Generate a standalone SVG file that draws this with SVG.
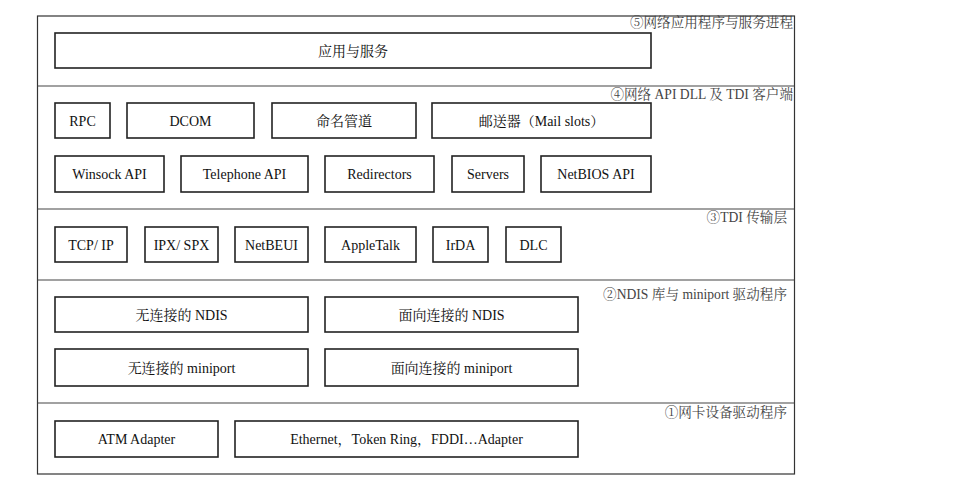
<svg xmlns="http://www.w3.org/2000/svg" width="957" height="497" viewBox="0 0 957 497">
<style>
.frame{fill:none;stroke:#333;stroke-width:1.2}
.div{stroke:#444;stroke-width:1.2}
.box{fill:#fff;stroke:#222;stroke-width:1.6}
.t{font-family:"Liberation Serif","Noto Serif CJK SC","Noto Sans CJK SC",serif;font-size:14px;fill:#111;text-anchor:middle}
.lab{font-family:"Liberation Serif","Noto Serif CJK SC","Noto Sans CJK SC",serif;font-size:13.6px;fill:#444;text-anchor:end}
</style>
<rect width="957" height="497" fill="#fff"/>
<g id="frame">
<rect class="frame" x="37.5" y="16" width="757" height="458"/>
<line class="div" x1="37.5" y1="86" x2="794.5" y2="86"/>
<line class="div" x1="37.5" y1="209" x2="794.5" y2="209"/>
<line class="div" x1="37.5" y1="280" x2="794.5" y2="280"/>
<line class="div" x1="37.5" y1="403" x2="794.5" y2="403"/>
</g>
<g id="layer-labels">
<text class="lab" x="793" y="27">⑤网络应用程序与服务进程</text>
<text class="lab" x="793" y="99">④网络 API DLL 及 TDI 客户端</text>
<text class="lab" x="787" y="222">③TDI 传输层</text>
<text class="lab" x="787" y="299">②NDIS 库与 miniport 驱动程序</text>
<text class="lab" x="787" y="417">①网卡设备驱动程序</text>
</g>
<g id="connectors"></g>
<g id="app-services"><rect class="box" x="55" y="33" width="596" height="35"/><text class="t" x="353" y="55.5">应用与服务</text></g>
<g id="rpc"><rect class="box" x="55" y="103" width="55" height="35"/><text class="t" x="82.5" y="125.5">RPC</text></g>
<g id="dcom"><rect class="box" x="127" y="103" width="127" height="35"/><text class="t" x="190.5" y="125.5">DCOM</text></g>
<g id="named-pipes"><rect class="box" x="272" y="103" width="144" height="35"/><text class="t" x="344" y="125.5">命名管道</text></g>
<g id="mailslots"><rect class="box" x="432" y="103" width="219" height="35"/><text class="t" x="541.5" y="125.5">邮送器（Mail slots）</text></g>
<g id="winsock"><rect class="box" x="55" y="156" width="109" height="36"/><text class="t" x="109.5" y="179">Winsock API</text></g>
<g id="telephone"><rect class="box" x="181" y="156" width="127" height="36"/><text class="t" x="244.5" y="179">Telephone API</text></g>
<g id="redirectors"><rect class="box" x="325" y="156" width="109" height="36"/><text class="t" x="379.5" y="179">Redirectors</text></g>
<g id="servers"><rect class="box" x="452" y="156" width="72" height="36"/><text class="t" x="488" y="179">Servers</text></g>
<g id="netbios"><rect class="box" x="541" y="156" width="110" height="36"/><text class="t" x="596" y="179">NetBIOS API</text></g>
<g id="tcpip"><rect class="box" x="55" y="227" width="72" height="35"/><text class="t" x="91" y="249.5">TCP/ IP</text></g>
<g id="ipxspx"><rect class="box" x="145" y="227" width="73" height="35"/><text class="t" x="181.5" y="249.5">IPX/ SPX</text></g>
<g id="netbeui"><rect class="box" x="235" y="227" width="73" height="35"/><text class="t" x="271.5" y="249.5">NetBEUI</text></g>
<g id="appletalk"><rect class="box" x="325" y="227" width="91" height="35"/><text class="t" x="370.5" y="249.5">AppleTalk</text></g>
<g id="irda"><rect class="box" x="433" y="227" width="55" height="35"/><text class="t" x="460.5" y="249.5">IrDA</text></g>
<g id="dlc"><rect class="box" x="506" y="227" width="55" height="35"/><text class="t" x="533.5" y="249.5">DLC</text></g>
<g id="cl-ndis"><rect class="box" x="55" y="297" width="253" height="35"/><text class="t" x="181.5" y="319.5">无连接的 NDIS</text></g>
<g id="co-ndis"><rect class="box" x="325" y="297" width="253" height="35"/><text class="t" x="451.5" y="319.5">面向连接的 NDIS</text></g>
<g id="cl-miniport"><rect class="box" x="55" y="349" width="253" height="37"/><text class="t" x="181.5" y="372.5">无连接的 miniport</text></g>
<g id="co-miniport"><rect class="box" x="325" y="349" width="253" height="37"/><text class="t" x="451.5" y="372.5">面向连接的 miniport</text></g>
<g id="atm"><rect class="box" x="55" y="421" width="163" height="36"/><text class="t" x="136.5" y="444">ATM Adapter</text></g>
<g id="ethernet"><rect class="box" x="235" y="421" width="343" height="36"/><text class="t" x="406.5" y="444">Ethernet，Token Ring，FDDI…Adapter</text></g>
</svg>
